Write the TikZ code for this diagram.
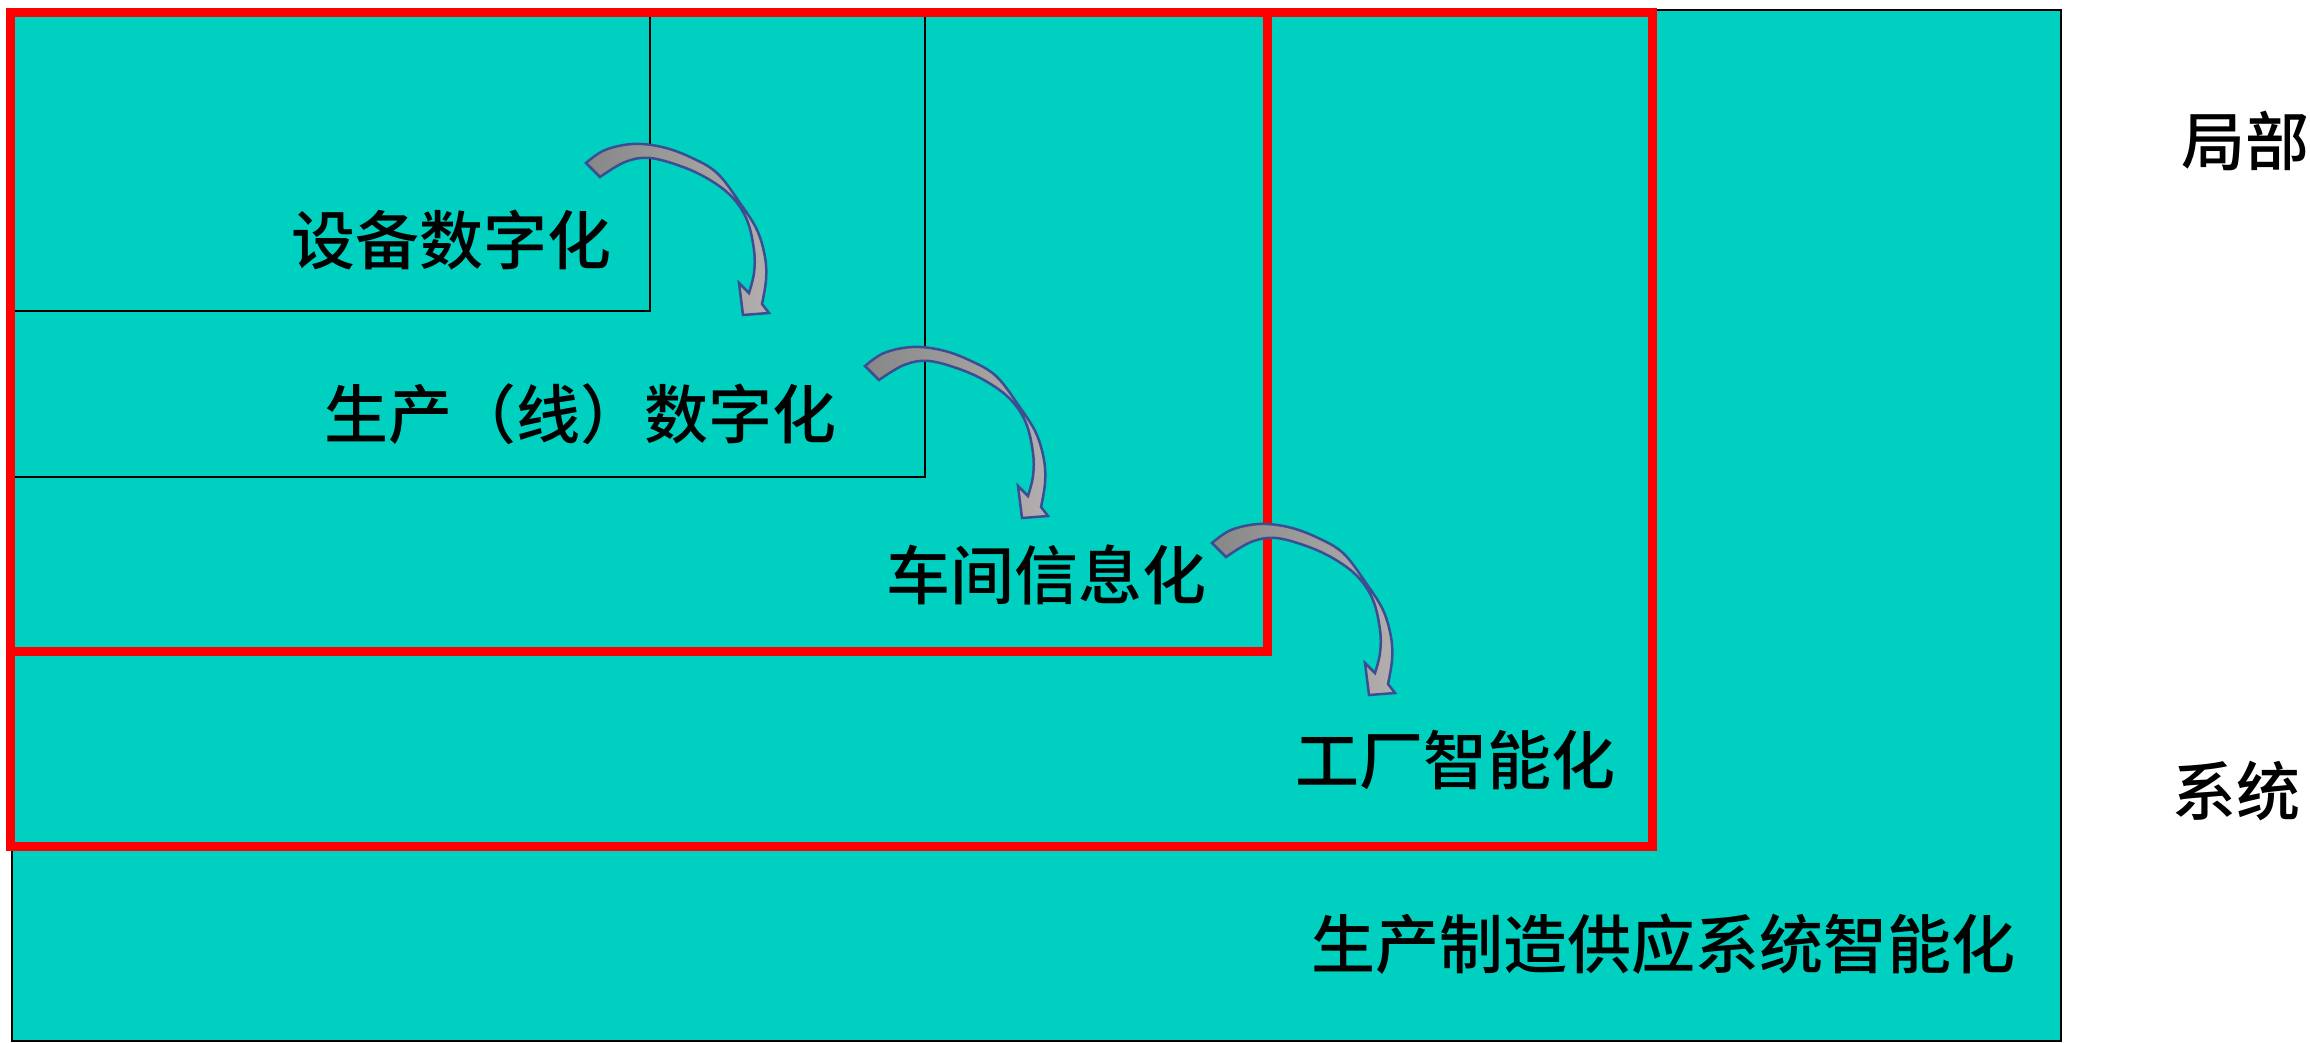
\documentclass[tikz,border=0pt]{standalone}
\usepackage{fontspec}
\newfontfamily\cjk{Noto Sans CJK SC}[UprightFont={* Medium}]
\definecolor{tealfill}{RGB}{0,208,192}
\definecolor{arrowline}{RGB}{60,78,147}
\definecolor{graydark}{RGB}{135,135,135}
\definecolor{graylight}{RGB}{180,174,174}
\tikzset{
  lbl/.style={font=\cjk\fontsize{64}{70}\selectfont, inner sep=0pt, text=black},
  blkbox/.style={draw=black, line width=2.5pt},
  redbox/.style={draw=red, line width=9pt, line join=miter},
  bendarrow/.pic={
    \path[draw=arrowline, line width=2.5pt, line join=miter, left color=graydark, right color=graylight]
      plot[smooth, tension=0.6] coordinates {(0,0) (19,-13) (47,-19) (76,-16) (104,-6) (131,10) (154,40) (171,67) (179,94) (180,117) (176,141)}
      -- (183,150) -- (157,152) -- (153,120) --
      plot[smooth, tension=0.6] coordinates {(163,130) (168,110) (168,87) (161,57) (146,34) (124,17) (97,4) (64,-5) (39,-1) (14,14)}
      -- cycle;
  }
}
\begin{document}
\begin{tikzpicture}[x=1pt,y=-1pt]
\useasboundingbox[fill=white] (0,0) rectangle (2310,1043);
% outer system box
\draw[blkbox, fill=tealfill] (12,10) rectangle (2061,1041);
% inner black boxes
\draw[blkbox] (12,15) rectangle (925,477);
\draw[blkbox] (12,15) rectangle (650,311);
% red boxes
\draw[redbox] (10.5,12.5) rectangle (1652,846);
\draw[redbox] (10.5,12.5) rectangle (1267,651);
% arrows
\pic at (586,163) {bendarrow};
\pic at (865,366) {bendarrow};
\pic at (1212,543) {bendarrow};
% labels
\node[lbl] (sb) at (451,240) {设备数字化};
\node[lbl] (scx) at (580,414) {生产（线）数字化};
\node[lbl] (cj) at (1046,575) {车间信息化};
\node[lbl] (gc) at (1455,760) {工厂智能化};
\node[lbl] (xt) at (1663,944) {生产制造供应系统智能化};
\node[lbl] (jb) at (2245,141) {局部};
\node[lbl] (xtl) at (2236,791) {系统};
\end{tikzpicture}
\end{document}
